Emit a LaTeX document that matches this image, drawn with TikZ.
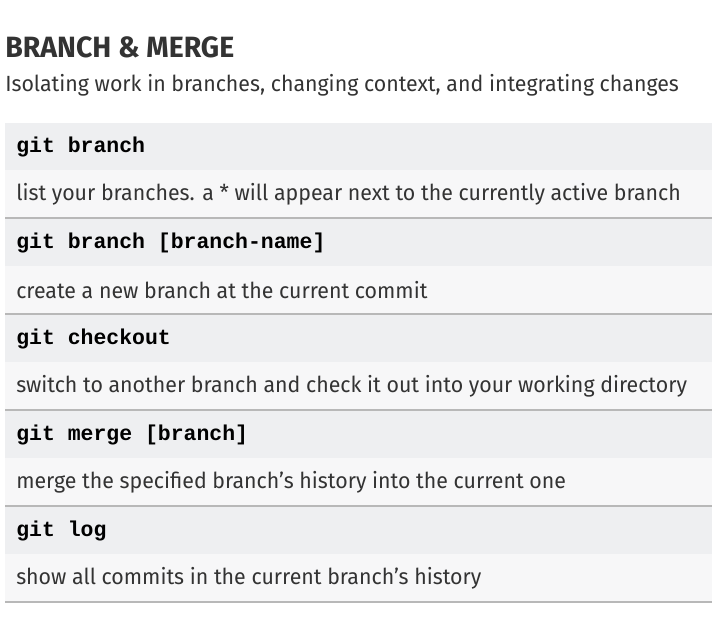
\documentclass[tikz,border=0pt]{standalone}
\usepackage{fontspec}
\setmainfont[FakeStretch=0.97]{Fira Sans}
\setmonofont{Liberation Mono}
\usepackage{tikz}
\usetikzlibrary{positioning}
\definecolor{cmdgrey}{HTML}{EEEFF1}
\definecolor{descgrey}{HTML}{F7F7F8}
\definecolor{rulegrey}{HTML}{B8B8B8}
\definecolor{inkgrey}{HTML}{333333}

\begin{document}
\begin{tikzpicture}[x=0.75pt,y=-0.75pt]
	\tikzstyle{cmdtext} = [anchor=west,inner sep=0pt,font=\fontsize{16.1}{18}\ttfamily\bfseries,text=black]
	\tikzstyle{desctext} = [anchor=west,inner sep=0pt,font=\fontsize{16.5}{19}\selectfont,text=inkgrey]

	% Page
	\useasboundingbox (0,0) rectangle (722,624);

	% Heading
	\node[anchor=west,inner sep=0pt,font=\fontsize{22}{24}\selectfont\bfseries,text=inkgrey] (title) at (5,47) {BRANCH \& MERGE};
	\node[desctext] (subtitle) at (5,85) {Isolating work in branches, changing context, and integrating changes};

	% Rows
	\foreach \i/\cmd/\desc in {0/git branch/{list your branches. a * will appear next to the currently active branch},
		1/git branch [branch-name]/{create a new branch at the current commit},
		2/git checkout/{switch to another branch and check it out into your working directory},
		3/git merge [branch]/{merge the specified branch’s history into the current one},
		4/git log/{show all commits in the current branch’s history}}
	{
		\fill[cmdgrey] (5,123+96*\i) rectangle (712,170+96*\i);
		\fill[descgrey] (5,170+96*\i) rectangle (712,218+96*\i);
		\draw[rulegrey,line width=0.9pt] (5,218+96*\i) -- (712,218+96*\i);
		\node[cmdtext] (cmd\i) at (16,147+96*\i) {\cmd};
		\node[desctext] (desc\i) at (16,194+96*\i) {\desc};
	}
\end{tikzpicture}
\end{document}
